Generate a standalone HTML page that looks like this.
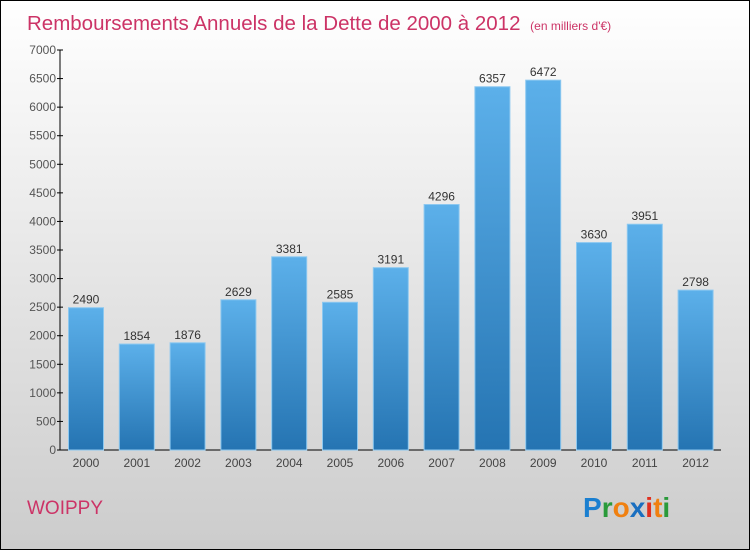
<!DOCTYPE html>
<html><head><meta charset="utf-8"><style>
body{margin:0}
#c{width:748px;height:548px;border:1px solid #000;background:linear-gradient(#fff,#ccc);position:relative;font-family:"Liberation Sans",sans-serif;overflow:hidden}
</style></head><body>
<div id="c">
<svg width="748" height="548">
<defs><linearGradient id="g" x1="0" y1="0" x2="0" y2="1"><stop offset="0" stop-color="#5cb0ea"/><stop offset="1" stop-color="#2574b2"/></linearGradient></defs>
<text x="26" y="29" font-size="20.5" fill="#cc3366">Remboursements Annuels de la Dette de 2000 à 2012 <tspan font-size="12" dx="4">(en milliers d'€)</tspan></text>
<g id="plot"></g>
<text x="26" y="513" font-size="19" fill="#cc3366">WOIPPY</text>
<text x="582" y="516" font-size="28" font-weight="bold"><tspan fill="#1a7fd0">P</tspan><tspan fill="#2a9a3a">r</tspan><tspan fill="#f08010">o</tspan><tspan fill="#1a6fc0">x</tspan><tspan fill="#e03020">i</tspan><tspan fill="#f08010">t</tspan><tspan fill="#2a9a3a">i</tspan></text>
</svg></div>
<script>
const years=["2000","2001","2002","2003","2004","2005","2006","2007","2008","2009","2010","2011","2012"];
const values=[2490,1854,1876,2629,3381,2585,3191,4296,6357,6472,3630,3951,2798];
const ticks=[0,500,1000,1500,2000,2500,3000,3500,4000,4500,5000,5500,6000,6500,7000];
const NS="http://www.w3.org/2000/svg",p=document.getElementById('plot');
const y=v=>449-v/7000*400, x=i=>85+i*50.8;
function mk(t,a){const e=document.createElementNS(NS,t);for(const k in a)e.setAttribute(k,a[k]);p.appendChild(e);return e;}
let e=mk('line',{x1:59,y1:49,x2:59,y2:449,stroke:'#000'});


e=mk('line',{x1:59,y1:449,x2:720,y2:449,stroke:'#000'});


ticks.forEach(t=>{
 const l=mk('line',{x1:56,y1:y(t),x2:62,y2:y(t),stroke:'#000'});
 
 
 const tx=mk('text',{x:55,y:y(t)+4,'font-size':12,fill:'#555','text-anchor':'end'});tx.textContent=t;
 
 
});
values.forEach((v,i)=>{
 const r=mk('rect',{x:x(i)-17.5,y:y(v),width:35,height:449-y(v),fill:'url(#g)',stroke:'#8cc8f0','stroke-width':1});
 
 
 const t=mk('text',{x:x(i),y:y(v)-4,'font-size':12,fill:'#333','text-anchor':'middle'});t.textContent=v;
 
 
 const l=mk('text',{x:x(i),y:466,'font-size':12,fill:'#444','text-anchor':'middle'});l.textContent=years[i];
 
 
});
</script></body></html>
